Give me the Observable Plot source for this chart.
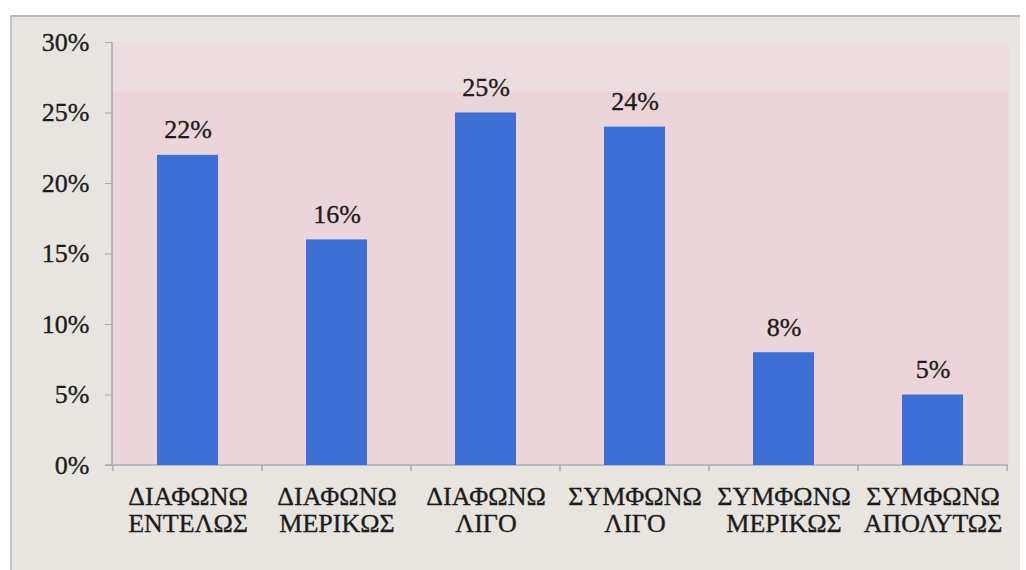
<!DOCTYPE html>
<html>
<head>
<meta charset="utf-8">
<script src="https://cdn.jsdelivr.net/npm/d3@7"></script>
<script src="https://cdn.jsdelivr.net/npm/@observablehq/plot@0.6"></script>
<style>
  html, body { margin: 0; padding: 0; background: #ffffff; }
  #chart svg {
    position: absolute; left: 10px; top: 15px;
    background: #e8e5e1;
    border-top: 2px solid #b9b9b9;
    border-left: 2px solid #c4c4c4;
  }
</style>
</head>
<body>
<div id="chart"></div>
<script>
// Answer categories (two-word labels, broken onto two lines on the axis)
const categories = [
  "ΔΙΑΦΩΝΩ ΕΝΤΕΛΩΣ",
  "ΔΙΑΦΩΝΩ ΜΕΡΙΚΩΣ",
  "ΔΙΑΦΩΝΩ ΛΙΓΟ",
  "ΣΥΜΦΩΝΩ ΛΙΓΟ",
  "ΣΥΜΦΩΝΩ ΜΕΡΙΚΩΣ",
  "ΣΥΜΦΩΝΩ ΑΠΟΛΥΤΩΣ"
];
// Share of responses, in percent
const percentages = [22, 16, 25, 24, 8, 5];
// Y axis ticks, in percent
const yTicks = [0, 5, 10, 15, 20, 25, 30];

const data = categories.map((c, i) => ({category: c, value: percentages[i]}));

const serif = "Liberation Serif";
const axisGrey = "#a3adb5";
const ink = "#1c1c1c";

// Axis lines and category boundary ticks, positioned from the scales
function axisLines(index, scales, values, dim) {
  const g = d3.create("svg:g");
  const left = dim.marginLeft, right = dim.width - dim.marginRight;
  const top = dim.marginTop, bottom = dim.height - dim.marginBottom;
  // lighter band along the top of the plot area
  g.append("rect").attr("x", left).attr("y", top)
    .attr("width", right - left).attr("height", scales.y(26.5) - top)
    .attr("fill", "#ecdde0");
  const x0 = scales.x(categories[0]), x1 = scales.x(categories[1]);
  const step = x1 - x0;
  const bw = scales.x.bandwidth ? scales.x.bandwidth() : 0;
  const c0 = x0 + bw / 2 - step / 2;
  for (let k = 0; k <= categories.length; k++) {
    const x = c0 + k * step;
    g.append("line").attr("x1", x).attr("x2", x)
      .attr("y1", bottom).attr("y2", bottom + 6)
      .attr("stroke", axisGrey).attr("stroke-width", 1.5);
  }
  g.append("line").attr("x1", left - 7).attr("x2", right)
    .attr("y1", bottom).attr("y2", bottom)
    .attr("stroke", axisGrey).attr("stroke-width", 1.5);
  g.append("line").attr("x1", left).attr("x2", left)
    .attr("y1", top).attr("y2", bottom)
    .attr("stroke", axisGrey).attr("stroke-width", 1.5);
  return g.node();
}

const chart = Plot.plot({
  width: 1008,
  height: 553,
  marginLeft: 100,
  marginRight: 12,
  marginTop: 25,
  marginBottom: 105,
  style: {fontFamily: serif, fontSize: "26px", color: ink},
  x: {domain: categories, paddingInner: 0.59, paddingOuter: 0.295, label: null},
  y: {domain: [0, 30], label: null},
  marks: [
    Plot.frame({fill: "#ebd5da", stroke: "none"}),
    axisLines,
    Plot.axisY({
      ticks: yTicks, tickFormat: d => d + "%",
      tickSize: 7, tickPadding: 16, stroke: axisGrey, fill: ink,
      textStroke: ink, textStrokeWidth: 0.35,
      fontSize: 26, label: null
    }),
    Plot.axisX({
      tickSize: 0, tickPadding: 20, fill: ink,
      textStroke: ink, textStrokeWidth: 0.35,
      tickFormat: d => d.replace(" ", "\n"), lineHeight: 1.04,
      fontSize: 26, label: null
    }),
    Plot.barY(data, {x: "category", y: "value", fill: "#3e6fd6"}),
    Plot.text(data, {
      x: "category", y: "value", text: d => d.value + "%",
      lineAnchor: "bottom", dy: -17, fontSize: 26, fill: ink,
      stroke: ink, strokeWidth: 0.35
    })
  ]
});
document.getElementById("chart").append(chart);
</script>
</body>
</html>
